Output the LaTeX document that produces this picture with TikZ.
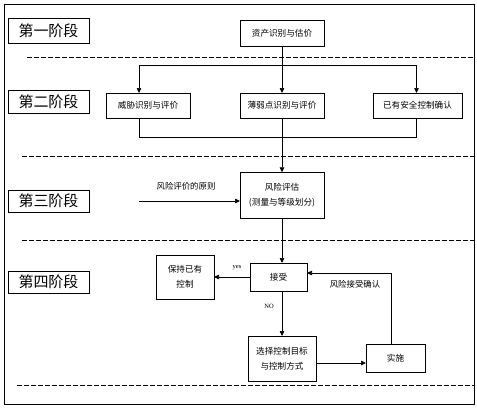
\documentclass[tikz,border=0pt]{standalone}
\usepackage{fontspec}
\setmainfont{Liberation Serif}
\newfontfamily\cjk{Noto Sans CJK SC}
\usetikzlibrary{arrows.meta}
\begin{document}
\begin{tikzpicture}[x=1pt,y=-1pt,
  every node/.style={inner sep=0pt,outer sep=0pt},
  box/.style={draw,line width=0.8pt,fill=white,align=center,font=\cjk\fontsize{8.6}{12}\selectfont},
  stagebox/.style={draw,line width=0.8pt,minimum width=81pt,font=\cjk\fontsize{15}{16}\selectfont},
  lbl/.style={font=\cjk\fontsize{8.4}{10}\selectfont},
  conn/.style={line width=0.7pt},
  arr/.style={line width=0.7pt,-{Triangle[length=5pt,width=4.5pt]}},
  sep/.style={line width=0.7pt,dash pattern=on 4.5pt off 2.5pt}]
\useasboundingbox (0,0) rectangle (477,408);
\draw[line width=0.9pt] (4,4.5) rectangle (474,404);
% stage labels
\node[stagebox,minimum height=25pt] (s1) at (48.5,30.5) {第一阶段};
\node[stagebox,minimum height=23pt] (s2) at (48.5,101.5) {第二阶段};
\node[stagebox,minimum height=22pt] (s3) at (48.5,201) {第三阶段};
\node[stagebox,minimum height=22pt] (s4) at (48.5,282) {第四阶段};
% separators
\draw[sep] (27,57) -- (474,57);
\draw[sep] (22,156) -- (474,156);
\draw[sep] (22,240) -- (474,240);
\draw[sep] (17,385) -- (474,385);
% boxes
\node[box,minimum width=84pt,minimum height=26pt] (asset) at (282,33) {资产识别与估价};
\node[box,minimum width=84pt,minimum height=25pt] (threat) at (148,105.5) {威胁识别与评价};
\node[box,minimum width=84pt,minimum height=25pt] (vuln) at (282,105.5) {薄弱点识别与评价};
\node[box,minimum width=89pt,minimum height=25pt] (exist) at (417.5,105.5) {已有安全控制确认};
\node[box,minimum width=84pt,minimum height=46pt] (risk) at (282,195.3) {风险评估\\[3pt](测量与等级划分)};
\node[box,minimum width=57pt,minimum height=28pt] (accept) at (278.5,277) {接受};
\node[box,minimum width=58pt,minimum height=44pt] (keep) at (185,277) {保持已有\\[3pt]控制};
\node[box,minimum width=68pt,minimum height=45pt] (select) at (282,358.5) {选择控制目标\\[3pt]与控制方式};
\node[box,minimum width=59pt,minimum height=28pt] (impl) at (395.5,358) {实施};
% coordinates
\coordinate (top) at (282,65);
\coordinate (tl) at (139,65);
\coordinate (tr) at (416.5,65);
\coordinate (bot) at (282,137);
\coordinate (bl) at (139,137);
\coordinate (br) at (416.5,137);
\coordinate (pa) at (139,201);
\coordinate (ir) at (391,273);
\coordinate (si) at (316,363);
% stage 1 -> 2
\draw[conn] (asset.south) -- (top);
\draw[conn] (tl) -- (tr);
\draw[arr] (tl) -- (tl |- threat.north);
\draw[arr] (top) -- (vuln.north);
\draw[arr] (tr) -- (tr |- exist.north);
% stage 2 -> 3
\draw[conn] (bl |- threat.south) -- (bl) -- (br) -- (br |- exist.south);
\draw[conn] (vuln.south) -- (bot);
\draw[arr] (bot) -- (risk.north);
\draw[arr] (pa) -- (pa -| risk.west);
\node[lbl] (principle) at (186,186) {风险评价的原则};
% stage 4
\draw[arr] (risk.south) -- (risk.south |- accept.north);
\draw[arr] (accept.west) -- (keep.east);
\node[font=\fontsize{6.5}{7}\selectfont] (yes) at (237,268) {yes};
\draw[arr] (accept.south -| select.north) -- (select.north);
\node[font=\fontsize{6.5}{7}\selectfont] (no) at (269,306) {NO};
\draw[arr] (si) -- (si -| impl.west);
\draw[arr] (impl.north -| ir) -- (ir) -- (ir -| accept.east);
\node[lbl] (confirm) at (355,284) {风险接受确认};
\end{tikzpicture}
\end{document}
